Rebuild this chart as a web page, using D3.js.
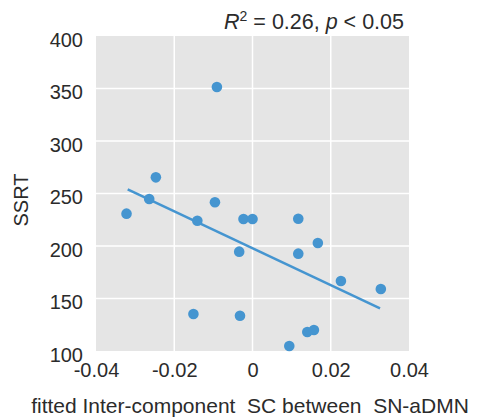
<!DOCTYPE html>
<html>
<head>
<meta charset="utf-8">
<script src="https://cdn.jsdelivr.net/npm/d3@7"></script>
<style>
  body { margin: 0; background: #fff; }
  text { font-family: "Liberation Sans", Arial, sans-serif; fill: #2b2b2b; }
</style>
</head>
<body>
<div id="chart"></div>
<script>
// Data
const connX = [-0.0322, -0.0247, -0.0264, -0.0141, -0.0096, -0.0034, -0.0023, 0.0000, 0.0117, 0.0117, 0.0167, 0.0226, 0.0328, -0.0151, -0.0032, 0.0094, 0.0140, 0.0157, -0.0091];
const ssrt  = [230.8, 265.4, 244.8, 224.1, 241.6, 194.6, 225.7, 225.7, 226.0, 192.7, 202.9, 166.7, 159.0, 135.2, 133.6, 104.8, 118.1, 120.0, 351.4];
const fitX = [-0.0319, 0.0326];
const fitY = [254, 140.7];
const xTicks = [-0.04, -0.02, 0, 0.02, 0.04];
const xTickLabels = ["-0.04", "-0.02", "0", "0.02", "0.04"];
const yTicks = [100, 150, 200, 250, 300, 350, 400];

const width = 480, height = 419;
const margin = { top: 36, right: 71, bottom: 68, left: 96 };

const svg = d3.select("#chart").append("svg")
  .attr("width", width)
  .attr("height", height);

const x = d3.scaleLinear().domain([-0.04, 0.04]).range([margin.left, width - margin.right]);
const y = d3.scaleLinear().domain([100, 400]).range([height - margin.bottom, margin.top]);

// panel background
svg.append("rect")
  .attr("x", x(-0.04)).attr("y", y(400))
  .attr("width", x(0.04) - x(-0.04))
  .attr("height", y(100) - y(400))
  .attr("fill", "#e5e5e5");

// grid
svg.append("g").selectAll("line")
  .data(xTicks.slice(1, -1))
  .join("line")
  .attr("x1", d => x(d)).attr("x2", d => x(d))
  .attr("y1", y(400)).attr("y2", y(100))
  .attr("stroke", "#fff").attr("stroke-width", 1.5);

svg.append("g").selectAll("line")
  .data(yTicks.slice(1, -1))
  .join("line")
  .attr("x1", x(-0.04)).attr("x2", x(0.04))
  .attr("y1", d => y(d)).attr("y2", d => y(d))
  .attr("stroke", "#fff").attr("stroke-width", 1.5);

// axes (labels only)
const yAxis = svg.append("g")
  .attr("transform", `translate(${x(-0.04) - 9},3)`)
  .call(d3.axisLeft(y).tickValues(yTicks).tickSize(0).tickPadding(4));
yAxis.select(".domain").remove();
yAxis.selectAll("text").style("font-size", "20px").attr("fill", "#2b2b2b").attr("dy", "0.36em");

const xAxis = svg.append("g")
  .attr("transform", `translate(0,${y(100) + 8})`)
  .call(d3.axisBottom(x).tickValues(xTicks).tickFormat((d, i) => xTickLabels[i]).tickSize(0).tickPadding(4));
xAxis.select(".domain").remove();
xAxis.selectAll("text").style("font-size", "20px").attr("fill", "#2b2b2b");

// fit line
svg.append("line")
  .attr("x1", x(fitX[0])).attr("y1", y(fitY[0]))
  .attr("x2", x(fitX[1])).attr("y2", y(fitY[1]))
  .attr("stroke", "#4595d0").attr("stroke-width", 2.5);

// points
svg.append("g").selectAll("circle")
  .data(connX.map((d, i) => [d, ssrt[i]]))
  .join("circle")
  .attr("cx", d => x(d[0]))
  .attr("cy", d => y(d[1]))
  .attr("r", 5.3)
  .attr("fill", "#4595d0");

// axis titles
svg.append("text")
  .attr("transform", `translate(28,200) rotate(-90)`)
  .attr("text-anchor", "middle")
  .style("font-size", "20px")
  .text("SSRT");

svg.append("text")
  .attr("x", 250).attr("y", 413)
  .attr("text-anchor", "middle")
  .style("font-size", "21px")
  .style("white-space", "pre")
  .attr("xml:space", "preserve")
  .text("fitted Inter-component  SC between  SN-aDMN");

// stats annotation
const stat = svg.append("text")
  .attr("x", 404).attr("y", 29)
  .attr("text-anchor", "end")
  .style("font-size", "21.5px");
stat.append("tspan").style("font-style", "italic").text("R");
stat.append("tspan").attr("dy", -8).style("font-size", "14px").text("2");
stat.append("tspan").attr("dy", 8).text(" = 0.26, ");
stat.append("tspan").style("font-style", "italic").text("p");
stat.append("tspan").text(" < 0.05");
</script>
</body>
</html>
